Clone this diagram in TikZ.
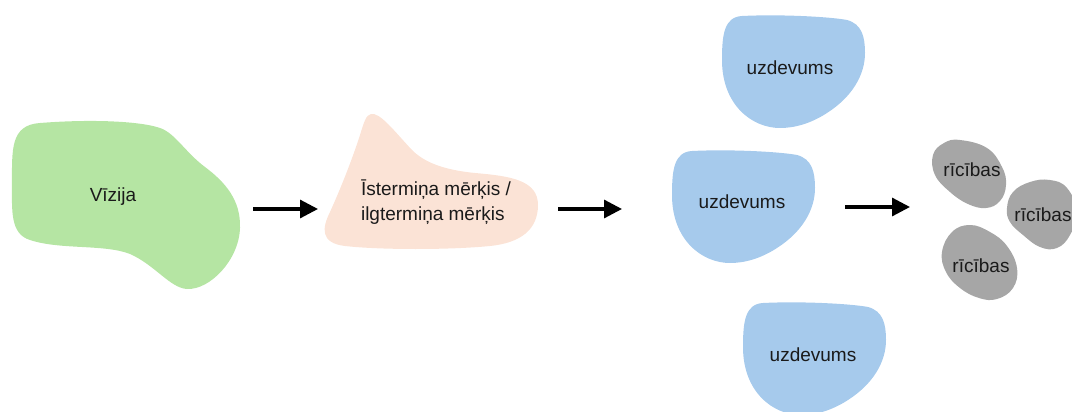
\documentclass[tikz,border=0pt]{standalone}
\usepackage{fontspec}
\setmainfont{Liberation Sans}
\usetikzlibrary{arrows.meta}
\definecolor{greenC}{HTML}{B5E5A3}
\definecolor{peachC}{HTML}{FBE3D6}
\definecolor{blueC}{HTML}{A6CAEC}
\definecolor{grayC}{HTML}{A6A6A6}
\definecolor{txtC}{HTML}{1A1A1A}
\tikzset{
  lbl/.style={text=txtC, font=\fontsize{19}{25}\selectfont, inner sep=0pt},
  flow/.style={line width=3.2pt, -{Triangle[length=18pt,width=18pt]}},
  egg/.style={fill=grayC},
  blueblob/.pic={\fill[blueC] (20,1) .. controls (60,-1) and (110,2) .. (125,5)
     .. controls (140,9) and (143,22) .. (143,38)
     .. controls (143,60) and (130,82) .. (105,98)
     .. controls (88,109) and (72,113) .. (58,113)
     .. controls (30,113) and (0,90) .. (0,45)
     .. controls (0,20) and (2,2) .. (20,1) -- cycle;}
}
\begin{document}
\begin{tikzpicture}[x=1pt, y=-1pt]
\useasboundingbox (0,0) rectangle (1072,412);
\clip (0,0) rectangle (1072,412);
% vision blob
\fill[greenC] (40,123) .. controls (90,119) and (140,121) .. (160,128)
  .. controls (175,133) and (185,152) .. (205,167)
  .. controls (225,182) and (241,200) .. (240,228)
  .. controls (239,260) and (210,290) .. (187,289)
  .. controls (170,288) and (155,265) .. (130,254)
  .. controls (105,244) and (60,250) .. (30,240)
  .. controls (10,234) and (12,210) .. (12,185)
  .. controls (12,150) and (10,125) .. (40,123) -- cycle;
\node[lbl] (vision) at (113,197) {Vīzija};
% goal blob
\fill[peachC] (371,114) .. controls (380,112) and (395,132) .. (412,150)
  .. controls (425,163) and (445,170) .. (475,173)
  .. controls (510,176) and (538,180) .. (538,205)
  .. controls (538,230) and (520,243) .. (490,246)
  .. controls (450,250) and (380,250) .. (345,246)
  .. controls (320,243) and (322,228) .. (330,212)
  .. controls (340,190) and (352,160) .. (360,135)
  .. controls (364,122) and (366,115) .. (371,114) -- cycle;
\node[lbl, align=left] (goal) at (436,202) {Īstermiņa mērķis /\\ilgtermiņa mērķis};
% task blobs
\pic at (722,15) {blueblob};
\pic at (672,150) {blueblob};
\pic at (743,302) {blueblob};
\node[lbl] (task1) at (790,68) {uzdevums};
\node[lbl] (task2) at (742,202) {uzdevums};
\node[lbl] (task3) at (813,355) {uzdevums};
% action blobs
\path[egg] plot[smooth cycle, tension=0.7] coordinates {
  (960,140) (987,148) (1002,167) (1006,185) (1000,201) (986,208)
  (968,204) (950,192) (935,175) (933,155) (944,143)};
\path[egg] plot[smooth cycle, tension=0.7] coordinates {
  (1007,208) (1013,192) (1030,182) (1050,180) (1067,188) (1077,212)
  (1070,235) (1057,248) (1040,247) (1023,235) (1010,222)};
\path[egg] plot[smooth cycle, tension=0.7] coordinates {
  (970,225) (990,232) (1007,246) (1017,268) (1013,288) (997,299)
  (979,298) (960,288) (946,272) (942,252) (952,232)};
\node[lbl] (act1) at (972,170) {rīcības};
\node[lbl] (act2) at (1043,215) {rīcības};
\node[lbl] (act3) at (981,266) {rīcības};
% arrows
\coordinate (a1s) at (253,209); \coordinate (a1e) at (318,209);
\coordinate (a2s) at (558,209); \coordinate (a2e) at (622,209);
\coordinate (a3s) at (845,207); \coordinate (a3e) at (910,207);
\draw[flow] (a1s) -- (a1e);
\draw[flow] (a2s) -- (a2e);
\draw[flow] (a3s) -- (a3e);
\end{tikzpicture}
\end{document}
